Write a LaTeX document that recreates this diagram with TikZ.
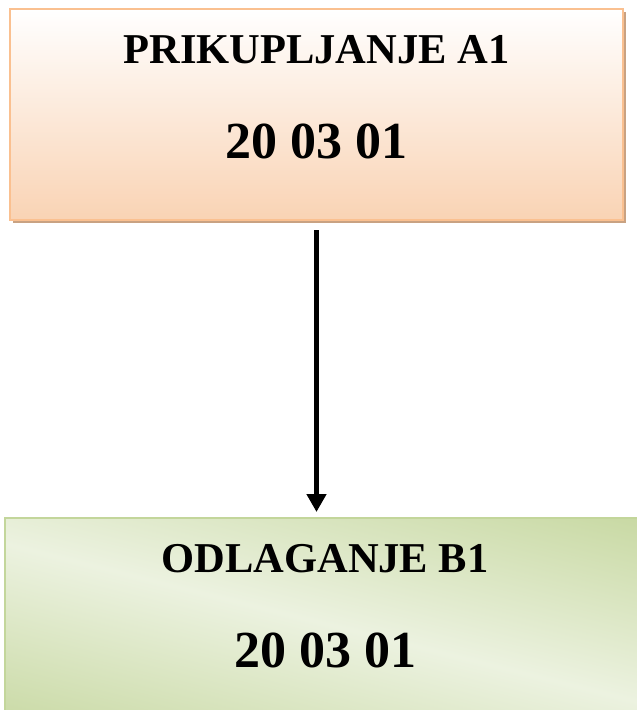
\documentclass[tikz,border=0pt]{standalone}
\usepackage{fontspec}
\setmainfont{Liberation Serif}
\usetikzlibrary{positioning,arrows.meta,shadows}

\definecolor{peachline}{RGB}{250,192,144}
\definecolor{peachfill}{RGB}{249,211,180}
\definecolor{peachshadow}{RGB}{201,162,130}
\definecolor{greenline}{RGB}{195,214,155}
\definecolor{greendark}{RGB}{196,214,156}
\definecolor{greenlight}{RGB}{236,242,224}
\pgfdeclareverticalshading{greenband}{100bp}{color(0bp)=(greendark); color(16bp)=(greendark); color(50bp)=(greenlight); color(84bp)=(greendark); color(100bp)=(greendark)}

\tikzset{
  stagebox/.style={rectangle, minimum width=613pt, minimum height=211pt, line width=2pt, inner sep=0pt},
  stagetitle/.style={font=\bfseries\fontsize{42.5}{42.5}\selectfont, anchor=base, inner sep=0pt},
  stagecode/.style={font=\bfseries\fontsize{52}{52}\selectfont, anchor=base, inner sep=0pt},
}

\begin{document}
\begin{tikzpicture}[x=1pt,y=-1pt]
        \useasboundingbox (0,0) rectangle (637,710);
        \clip (0,0) rectangle (637,710);

        % collection stage
        \node[stagebox, draw=peachline, top color=white, bottom color=peachfill,
              drop shadow={shadow xshift=3pt, shadow yshift=-3pt, fill=peachshadow, opacity=1}]
              (prikupljanje) at (316.5,114.5) {};
        \node[stagetitle] (titleA) at (316.5,63) {PRIKUPLJANJE A1};
        \node[stagecode] (codeA) at (316.5,158) {20 03 01};

        % disposal stage
        \node[stagebox, minimum width=640pt, draw=greenline, shading=greenband, shading angle=-14]
              (odlaganje) at (325,623.5) {};
        \node[stagetitle] (titleB) at (325,572) {ODLAGANJE B1};
        \node[stagecode] (codeB) at (325,667) {20 03 01};

        \draw[line width=4.5pt, -{Triangle[width=19pt,length=18pt]}, shorten <=9pt, shorten >=5pt]
              (prikupljanje.south) -- (prikupljanje.south |- odlaganje.north);
    \end{tikzpicture}
\end{document}
